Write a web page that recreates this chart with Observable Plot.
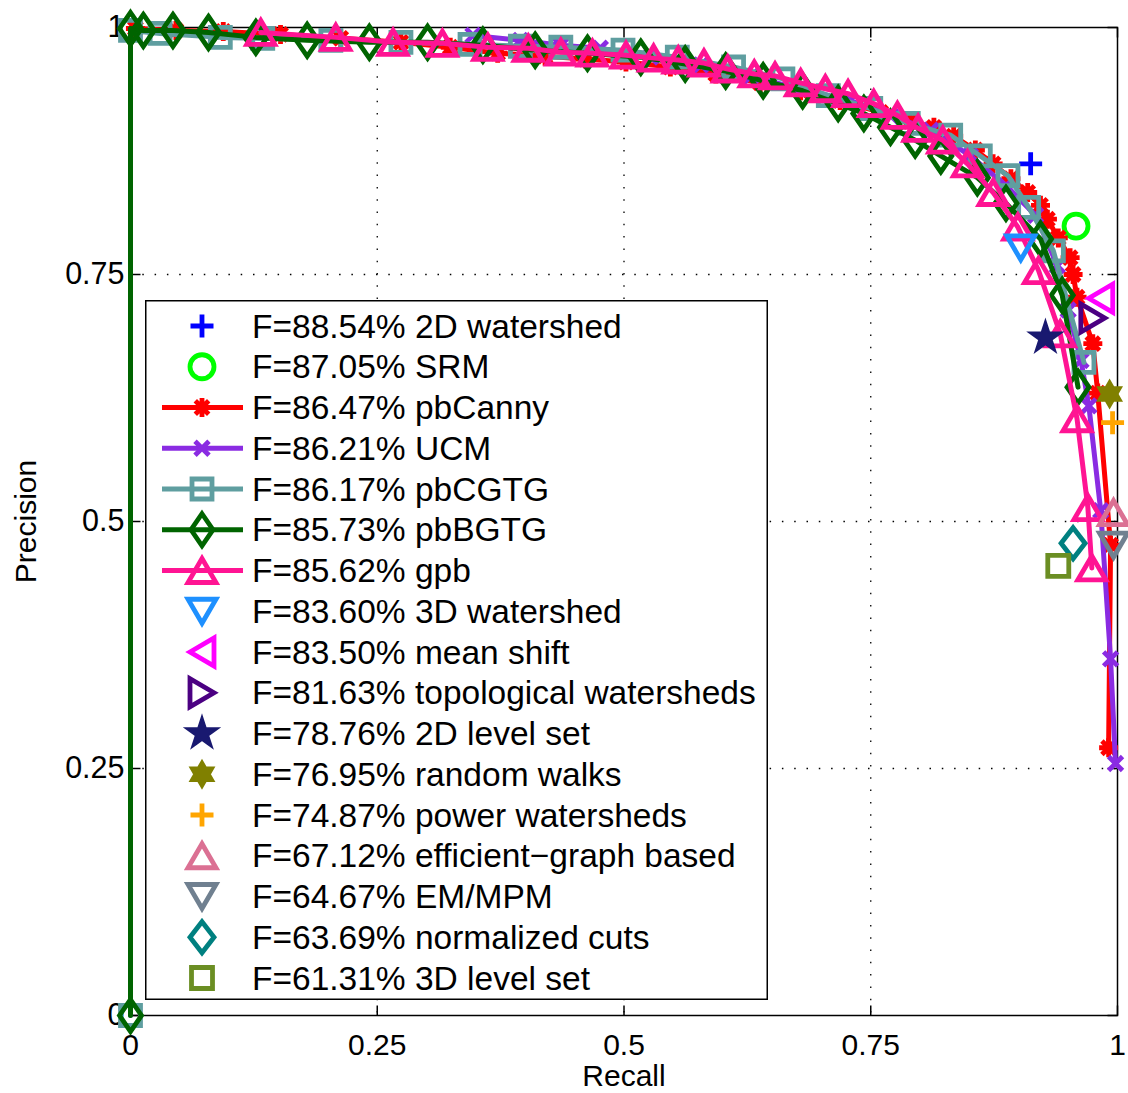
<!DOCTYPE html>
<html><head><meta charset="utf-8">
<script src="https://cdn.jsdelivr.net/npm/d3@7"></script>
<script src="https://cdn.jsdelivr.net/npm/@observablehq/plot@0.6"></script>
<style>
body{margin:0;background:#fff;}
#wrap{position:relative;width:1128px;height:1093px;font-family:"Liberation Sans",Arial,sans-serif;}
#legend{position:absolute;left:145px;top:300px;}
</style></head><body><div id="wrap"></div>
<script>
// ---------- data ----------
const xTicks = [0, 0.25, 0.5, 0.75, 1];
const yTicks = [0, 0.25, 0.5, 0.75, 1];
const xLabel = "Recall";
const yLabel = "Precision";

const seriesNames = ["2D watershed","SRM","pbCanny","UCM","pbCGTG","pbBGTG","gpb","3D watershed","mean shift","topological watersheds","2D level set","random walks","power watersheds","efficient\u2212graph based","EM/MPM","normalized cuts","3D level set"];
const fMeasures = ["88.54","87.05","86.47","86.21","86.17","85.73","85.62","83.60","83.50","81.63","78.76","76.95","74.87","67.12","64.67","63.69","61.31"];
const seriesColors = ["#0000ff","#00ff00","#ff0000","#8a2be2","#5f9ea0","#006400","#ff1493","#1e90ff","#ff00ff","#4b0082","#191970","#808000","#ffa500","#db7093","#708090","#008080","#6b8e23"];
const seriesMarkers = ["plus","circle","asterisk","times","square","diamond","triUp","triDown","triLeft","triRight","pentagram","hexagram","plus","triUp","triDown","diamondWide","squareBig"];

// [recall, precision]
const ws2D = [[0.912, 0.862]];
const srm = [[0.958, 0.799]];
const pbCanny = [[0.005,0.999],[0.046,0.997],[0.094,0.996],[0.152,0.993],[0.213,0.989],[0.274,0.985],[0.324,0.980],[0.372,0.974],[0.420,0.971],[0.461,0.968],[0.502,0.965],[0.547,0.960],[0.593,0.953],[0.638,0.944],[0.679,0.936],[0.719,0.926],[0.760,0.914],[0.790,0.905],[0.814,0.899],[0.834,0.890],[0.856,0.876],[0.874,0.862],[0.892,0.847],[0.909,0.833],[0.922,0.820],[0.929,0.806],[0.940,0.787],[0.952,0.767],[0.955,0.750],[0.959,0.727],[0.975,0.680],[0.980,0.630],[0.993,0.476],[0.991,0.271]];
const ucm = [[0.347,0.992],[0.395,0.987],[0.436,0.982],[0.476,0.979],[0.527,0.970],[0.578,0.962],[0.628,0.950],[0.679,0.938],[0.729,0.926],[0.770,0.911],[0.811,0.896],[0.851,0.870],[0.887,0.840],[0.917,0.810],[0.939,0.759],[0.950,0.714],[0.963,0.663],[0.971,0.617],[0.983,0.511],[0.993,0.361],[0.998,0.255]];
const pbCGTG = [[0,0],[0,0.997],[0.030,0.994],[0.091,0.990],[0.134,0.989],[0.203,0.987],[0.274,0.985],[0.344,0.983],[0.395,0.981],[0.436,0.980],[0.499,0.977],[0.554,0.970],[0.611,0.960],[0.661,0.948],[0.707,0.931],[0.750,0.918],[0.788,0.903],[0.831,0.891],[0.861,0.870],[0.889,0.850],[0.910,0.818],[0.935,0.774],[0.966,0.661]];
const pbBGTG = [[0,0],[0,0.999],[0.013,0.997],[0.043,0.997],[0.079,0.995],[0.127,0.990],[0.179,0.987],[0.242,0.985],[0.301,0.985],[0.357,0.982],[0.410,0.977],[0.463,0.974],[0.517,0.970],[0.562,0.963],[0.603,0.956],[0.641,0.946],[0.681,0.936],[0.717,0.923],[0.743,0.913],[0.770,0.899],[0.795,0.886],[0.821,0.870],[0.858,0.848],[0.887,0.822],[0.922,0.786],[0.944,0.729],[0.960,0.636]];
const gpb = [[0.132,0.995],[0.208,0.990],[0.266,0.985],[0.316,0.984],[0.362,0.980],[0.403,0.979],[0.436,0.975],[0.468,0.974],[0.502,0.972],[0.530,0.969],[0.555,0.967],[0.581,0.964],[0.605,0.958],[0.632,0.953],[0.653,0.951],[0.679,0.944],[0.704,0.938],[0.727,0.933],[0.753,0.923],[0.777,0.911],[0.798,0.898],[0.823,0.886],[0.848,0.862],[0.874,0.833],[0.899,0.798],[0.920,0.754],[0.942,0.690],[0.959,0.604],[0.970,0.514],[0.974,0.453]];
const ws3D = [[0.902, 0.777]];
const meanShift = [[0.983, 0.726]];
const topoWs = [[0.975, 0.706]];
const levelSet2D = [[0.927, 0.686]];
const randomWalks = [[0.992, 0.629]];
const powerWs = [[0.995, 0.600]];
const effGraph = [[0.996, 0.509]];
const emMpm = [[0.996, 0.476]];
const nCuts = [[0.955, 0.478]];
const levelSet3D = [[0.940, 0.455]];

const seriesData = [ws2D, srm, pbCanny, ucm, pbCGTG, pbBGTG, gpb, ws3D, meanShift, topoWs, levelSet2D, randomWalks, powerWs, effGraph, emMpm, nCuts, levelSet3D];

// ---------- marker shapes (MATLAB-like) ----------
function poly(c, pts){ c.moveTo(pts[0][0], pts[0][1]); for (let i=1;i<pts.length;i++) c.lineTo(pts[i][0], pts[i][1]); c.closePath(); }
const shapes = {
  plus: c => { c.moveTo(-11.5,0); c.lineTo(11.5,0); c.moveTo(0,-11.5); c.lineTo(0,11.5); },
  circle: c => { c.moveTo(12,0); c.arc(0,0,12,0,2*Math.PI); },
  asterisk: c => { const a=9.5,b=6.7; c.moveTo(-a,0);c.lineTo(a,0);c.moveTo(0,-a);c.lineTo(0,a);c.moveTo(-b,-b);c.lineTo(b,b);c.moveTo(-b,b);c.lineTo(b,-b); },
  times: c => { const a=7; c.moveTo(-a,-a);c.lineTo(a,a);c.moveTo(-a,a);c.lineTo(a,-a); },
  square: c => poly(c, [[-10,-10],[10,-10],[10,10],[-10,10]]),
  squareBig: c => poly(c, [[-10.5,-10.5],[10.5,-10.5],[10.5,10.5],[-10.5,10.5]]),
  diamond: c => poly(c, [[0,-16],[11,0],[0,16],[-11,0]]),
  diamondWide: c => poly(c, [[0,-15.5],[12,0],[0,15.5],[-12,0]]),
  triUp: c => poly(c, [[0,-12],[14,12],[-14,12]]),
  triDown: c => poly(c, [[0,12],[14,-12],[-14,-12]]),
  triLeft: c => poly(c, [[-12,0],[12,-14],[12,14]]),
  triRight: c => poly(c, [[12,0],[-12,-14],[-12,14]]),
  pentagram: c => { const pts=[]; for (let i=0;i<10;i++){ const R = i%2 ? 6.5 : 17; const a = -Math.PI/2 + i*Math.PI/5; pts.push([R*Math.cos(a), R*Math.sin(a)]);} poly(c, pts); },
  hexagram: c => { const pts=[]; for (let i=0;i<12;i++){ const R = i%2 ? 13.5/Math.sqrt(3) : 13.5; const a = -Math.PI/2 + i*Math.PI/6; pts.push([R*Math.cos(a), R*Math.sin(a)]);} poly(c, pts); }
};
const symbolOf = name => ({ draw(context){ shapes[name](context); } });
const filledMarkers = new Set(["pentagram","hexagram"]);
const markerStroke = 4.8;

// tick symbols (inward ticks, 10px)
const tickSym = (dx, dy) => ({ draw(c){ c.moveTo(0,0); c.lineTo(dx*10, dy*10); } });

// ---------- chart ----------
const marks = [
  Plot.gridX([0.25,0.5,0.75], {stroke:"black", strokeOpacity:1, strokeWidth:1.3, strokeDasharray:"1.5,10.8"}),
  Plot.gridY([0.25,0.5,0.75], {stroke:"black", strokeOpacity:1, strokeWidth:1.3, strokeDasharray:"1.5,10.8"}),
  Plot.dot(xTicks, {x: d=>d, y: () => 0, symbol: tickSym(0,-1), r: 1, stroke:"black", strokeWidth:1.5}),
  Plot.dot(xTicks, {x: d=>d, y: () => 1, symbol: tickSym(0,1), r: 1, stroke:"black", strokeWidth:1.5}),
  Plot.dot(yTicks, {y: d=>d, x: () => 0, symbol: tickSym(1,0), r: 1, stroke:"black", strokeWidth:1.5}),
  Plot.dot(yTicks, {y: d=>d, x: () => 1, symbol: tickSym(-1,0), r: 1, stroke:"black", strokeWidth:1.5}),
  Plot.frame({stroke:"black", strokeWidth:1.5}),
  Plot.axisX(xTicks, {tickSize:0, tickPadding:18, fontSize:30, tickFormat: d => String(d), label:null}),
  Plot.axisY(yTicks, {tickSize:0, tickPadding:6, fontSize:30.5, tickFormat: d => String(d), label:null}),
  Plot.text([xLabel], {frameAnchor:"bottom", dy:70, fontSize:30, text: d=>d}),
  Plot.text([yLabel], {frameAnchor:"left", dx:-104, rotate:-90, textAnchor:"middle", fontSize:30, text: d=>d})
];
seriesData.forEach((data, i) => {
  const color = seriesColors[i];
  if (data.length > 1) {
    marks.push(Plot.line(data, {x: d=>d[0], y: d=>d[1], stroke: color, strokeWidth: 5, strokeLinejoin:"round"}));
  }
  const filled = filledMarkers.has(seriesMarkers[i]);
  marks.push(Plot.dot(data, {x: d=>d[0], y: d=>d[1], r: 1, symbol: symbolOf(seriesMarkers[i]),
    stroke: color, strokeWidth: filled ? 2 : markerStroke, strokeLinejoin:"miter", strokeMiterlimit: 10,
    fill: filled ? color : "none"}));
});

const chart = Plot.plot({
  width: 1128, height: 1093,
  marginLeft: 130, marginRight: 11, marginTop: 27, marginBottom: 78,
  x: {domain: [0, 1], axis: null},
  y: {domain: [0, 1], axis: null},
  style: {fontFamily: "'Liberation Sans', Arial, sans-serif", fontSize: "30px", background: "white", color: "black", overflow: "visible"},
  marks
});
const wrap = document.getElementById("wrap");
wrap.appendChild(chart);

// ---------- legend (in-axes box, as in the original) ----------
const legW = 623, legH = 700, rowH = 40.75, row0 = 26;
const leg = d3.select(wrap).append("svg").attr("id","legend").attr("width", legW).attr("height", legH);
leg.append("rect").attr("x",0.75).attr("y",0.75).attr("width",legW-1.5).attr("height",legH-1.5).attr("fill","white").attr("stroke","black").attr("stroke-width",1.5);
seriesNames.forEach((name, i) => {
  const y = row0 + i*rowH;
  const g = leg.append("g");
  if (seriesData[i].length > 1) {
    g.append("line").attr("x1",17).attr("x2",98).attr("y1",y).attr("y2",y).attr("stroke",seriesColors[i]).attr("stroke-width",5);
  }
  const filled = filledMarkers.has(seriesMarkers[i]);
  g.append("path").attr("transform",`translate(57,${y})`)
    .attr("d", d3.symbol(symbolOf(seriesMarkers[i]))())
    .attr("fill", filled ? seriesColors[i] : "none")
    .attr("stroke", seriesColors[i]).attr("stroke-width", filled ? 2 : markerStroke).attr("stroke-linejoin","miter").attr("stroke-miterlimit",10);
  g.append("text").attr("x",107).attr("y",y).attr("dy","0.35em")
    .attr("font-size",33.5).attr("font-family","'Liberation Sans', Arial, sans-serif").attr("fill","black")
    .text(`F=${fMeasures[i]}% ${name}`);
});
</script></body></html>
